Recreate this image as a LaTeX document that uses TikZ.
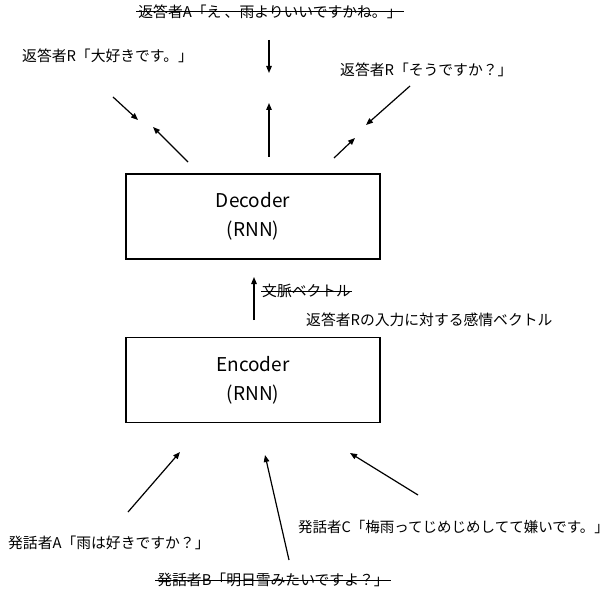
\documentclass[tikz,border=0pt]{standalone}
\usepackage{fontspec}
\setmainfont{Noto Sans CJK JP}
\usetikzlibrary{arrows.meta}
\tikzset{
  box/.style={draw, line width=1.2pt, minimum width=254pt, minimum height=85pt, align=center, font=\fontsize{19}{29}\selectfont},
  lbl/.style={inner sep=0pt, font=\fontsize{14.8}{17}\selectfont},
  arr/.style={line width=1.2pt, -{Triangle[length=7pt,width=5.5pt]}},
  strike/.style={line width=1pt}
}
\begin{document}
\begin{tikzpicture}[x=1pt,y=-1pt]
\useasboundingbox (0,0) rectangle (609,593);
% boxes
\node[box] (dec) at (253,216.5) {Decoder\\(RNN)};
\node[box] (enc) at (253,380) {Encoder\\(RNN)};
% labels
\node[lbl] (topA) at (270,12) {返答者A「え 、雨よりいいですかね。」};
\draw[strike] ([xshift=-2pt]topA.west) -- ([xshift=2pt]topA.east);
\node[lbl, anchor=west] (r1) at (22,56) {返答者R「大好きです。」};
\node[lbl, anchor=west] (r2) at (340,70) {返答者R「そうですか？」};
\node[lbl, anchor=west] (ctx) at (262,291) {文脈ベクトル};
\draw[strike] ([xshift=-1pt]ctx.west) -- ([xshift=1pt]ctx.east);
\node[lbl, anchor=west] (emo) at (306,320) {返答者Rの入力に対する感情ベクトル};
\node[lbl, anchor=west] (sa) at (8,543) {発話者A「雨は好きですか？」};
\node[lbl, anchor=west, font=\fontsize{14.5}{17}\selectfont] (sc) at (298,527) {発話者C「梅雨ってじめじめしてて嫌いです。」};
\node[lbl] (sb) at (273,580) {発話者B「明日雪みたいですよ？」};
\draw[strike] ([xshift=-2pt]sb.west) -- ([xshift=2pt]sb.east);
% arrow endpoints
\coordinate (d1s) at (188,162); \coordinate (d1e) at (153,127);
\coordinate (d2s) at (269,157); \coordinate (d2e) at (269,103);
\coordinate (d3s) at (334,158); \coordinate (d3e) at (355,138);
\coordinate (t1s) at (113,97);  \coordinate (t1e) at (138,120);
\coordinate (t2s) at (269,40);  \coordinate (t2e) at (269,73);
\coordinate (t3s) at (410,86);  \coordinate (t3e) at (366,125);
\coordinate (ms) at (254,320);  \coordinate (me) at (254,277);
\coordinate (as) at (128,512);  \coordinate (ae) at (180,452);
\coordinate (bs) at (289,560);  \coordinate (be) at (265,455);
\coordinate (cs) at (418,495);  \coordinate (ce) at (350,453);
\foreach \s/\e in {d1s/d1e,d2s/d2e,d3s/d3e,t1s/t1e,t2s/t2e,t3s/t3e,ms/me,as/ae,bs/be,cs/ce}
  \draw[arr] (\s) -- (\e);
\end{tikzpicture}
\end{document}
